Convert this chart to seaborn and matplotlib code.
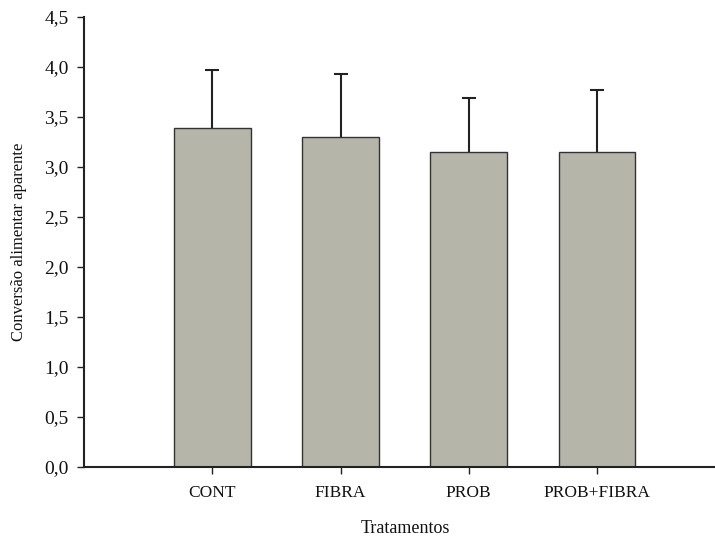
import numpy as np
import pandas as pd
import matplotlib
matplotlib.use('Agg')
import matplotlib.pyplot as plt
import seaborn as sns
from matplotlib.ticker import FuncFormatter

# data
tratamentos = ['CONT', 'FIBRA', 'PROB', 'PROB+FIBRA']
conversao = [3.39, 3.30, 3.15, 3.15]
erro = [0.58, 0.63, 0.54, 0.62]

df = pd.DataFrame({'Tratamentos': tratamentos, 'Conversao': conversao})

sns.set_style('ticks')
plt.rcParams['font.family'] = ['Liberation Serif', 'DejaVu Serif']

fig = plt.figure(figsize=(7.15, 5.36), dpi=100)
ax = fig.add_axes([0.1175, 0.1293, 0.8825, 0.8396])

sns.barplot(data=df, x='Tratamentos', y='Conversao', order=tratamentos,
            color='#b5b5a9', saturation=1, width=0.6, errorbar=None,
            edgecolor='#333333', linewidth=1.0, ax=ax, zorder=2)

# upward error bars only
xs = [p.get_x() + p.get_width() / 2 for p in ax.patches]
eb = ax.errorbar(xs, conversao, yerr=[np.zeros(len(erro)), erro], fmt='none',
                 ecolor='#222222', elinewidth=1.5, capsize=5, capthick=1.5, zorder=1)
# drop the lower caps (zero length side)
eb[1][0].remove()

ax.set_xlim(-1.0, 3.92)
ax.set_ylim(0, 4.5)
ax.set_yticks(np.arange(0, 4.51, 0.5))
ax.yaxis.set_major_formatter(FuncFormatter(lambda v, p: f'{v:.1f}'.replace('.', ',')))

sns.despine(ax=ax)
for s in ['left', 'bottom']:
    ax.spines[s].set_linewidth(1.5)
    ax.spines[s].set_color('#222222')

ax.tick_params(axis='both', direction='out', length=5, width=1, color='#222222',
               labelcolor='#111111')
ax.tick_params(axis='x', pad=8, labelsize=12.5)
ax.tick_params(axis='y', pad=6, labelsize=14)

ax.set_xlabel('Tratamentos', fontsize=13, labelpad=14, color='#111111')
ax.xaxis.label.set_x(0.509)
ax.set_ylabel('Conversão alimentar aparente', fontsize=12, color='#111111')
ax.yaxis.set_label_coords(-0.09, 0.5)

fig.savefig('out.png', dpi=100)
